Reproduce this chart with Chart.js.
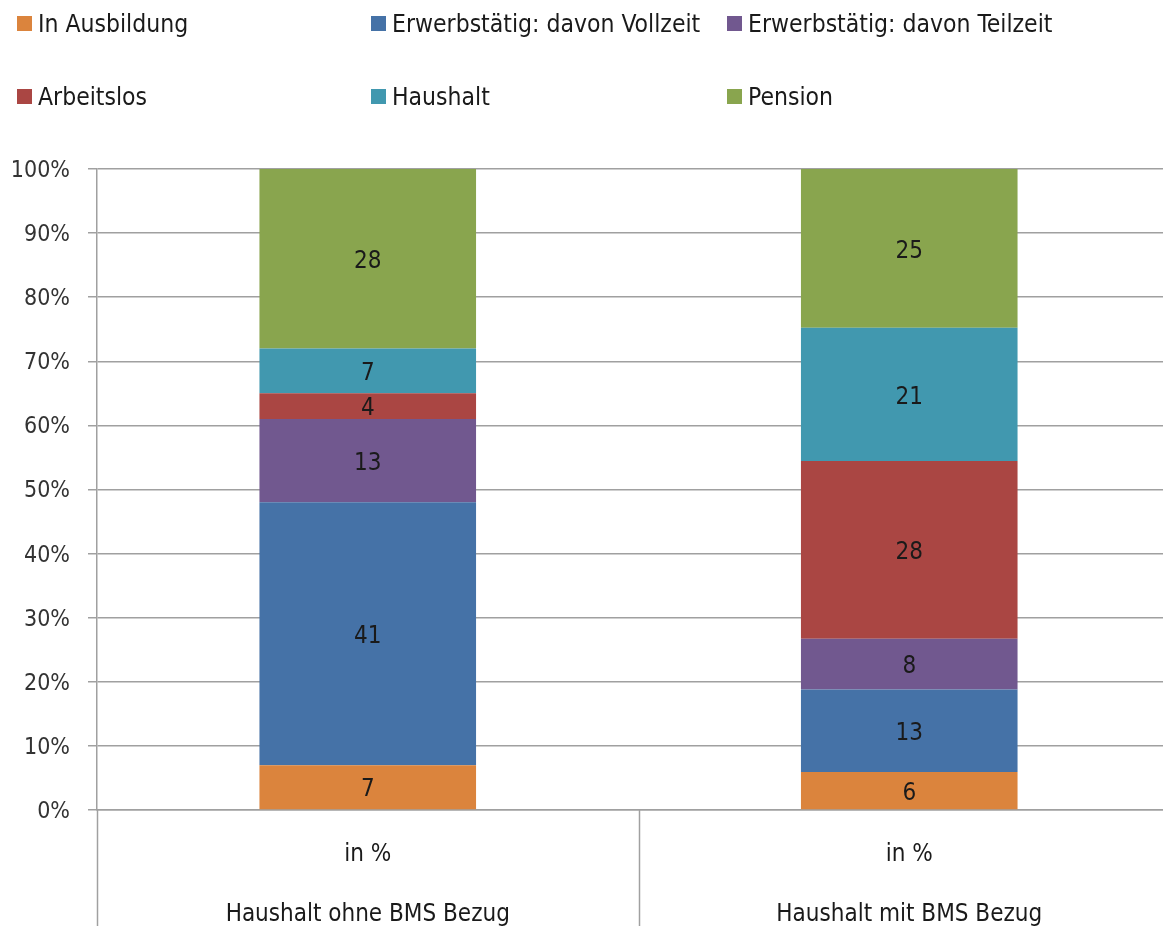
<!DOCTYPE html>
<html>
<head>
<meta charset="utf-8">
<script src="https://cdn.jsdelivr.net/npm/chart.js@4"></script>
<style>
  html, body { margin: 0; padding: 0; background: #fff; overflow: hidden; }
  canvas { display: block; }
</style>
</head>
<body>
<canvas id="grafica" width="1180" height="926" style="width:1180px;height:926px"></canvas>
<script>
// Kategorien (zweizeilige Achsenbeschriftung)
const kategorien = [
    ['in %', '', 'Haushalt ohne BMS Bezug'],
    ['in %', '', 'Haushalt mit BMS Bezug']
];
const serien = ['In Ausbildung', 'Erwerbstätig: davon Vollzeit', 'Erwerbstätig: davon Teilzeit', 'Arbeitslos', 'Haushalt', 'Pension'];
// Werte je Kategorie, in Reihenfolge der Serien
const ohneBMS = [7, 41, 13, 4, 7, 28];
const mitBMS = [6, 13, 8, 28, 21, 25];
const yTicks = [0, 10, 20, 30, 40, 50, 60, 70, 80, 90, 100];

const farben = ['#DB843D', '#4572A7', '#71588F', '#AA4643', '#4198AF', '#89A54E'];
const schrift = "'Liberation Sans Narrow', 'DejaVu Sans Condensed', Lato, sans-serif";
const grau = '#a0a0a0';

// 100%-gestapelt: jeder Balken wird auf seine Summe normiert
const summe = arr => arr.reduce((a, b) => a + b, 0);
const sOhne = summe(ohneBMS);
const sMit = summe(mitBMS);

const datasets = serien.map((name, i) => ({
    label: name,
    data: [ohneBMS[i] / sOhne * 100, mitBMS[i] / sMit * 100],
    roh: [ohneBMS[i], mitBMS[i]],
    backgroundColor: farben[i],
    borderWidth: 0,
    barPercentage: 0.4,
    categoryPercentage: 1
}));

// Legende oben, drei Spalten, zwei Zeilen
const legendePlugin = {
    id: 'legende',
    afterDraw(chart) {
        const ctx = chart.ctx;
        const spalten = [17, 371, 727];
        const zeilen = [24, 97];
        ctx.save();
        ctx.font = '24.5px ' + schrift;
        ctx.textBaseline = 'middle';
        ctx.textAlign = 'left';
        chart.data.datasets.forEach((ds, i) => {
            const x = spalten[i % 3];
            const y = zeilen[Math.floor(i / 3)];
            ctx.fillStyle = ds.backgroundColor;
            ctx.fillRect(x, y - 8, 15, 15);
            ctx.fillStyle = '#1a1a1a';
            ctx.fillText(ds.label, x + 21, y + 2);
        });
        ctx.restore();
    }
};

// Werte in die Segmente schreiben
const wertePlugin = {
    id: 'werte',
    afterDatasetsDraw(chart) {
        const ctx = chart.ctx;
        ctx.save();
        ctx.font = '24px ' + schrift;
        ctx.fillStyle = '#1a1a1a';
        ctx.textAlign = 'center';
        ctx.textBaseline = 'middle';
        chart.data.datasets.forEach((ds, i) => {
            chart.getDatasetMeta(i).data.forEach((bar, j) => {
                ctx.fillText(ds.roh[j], bar.x, (bar.y + bar.base) / 2 + 3);
            });
        });
        ctx.restore();
    }
};

// senkrechte Trennlinien unter der Achse
const trennPlugin = {
    id: 'trenn',
    afterDraw(chart) {
        const ctx = chart.ctx;
        const xs = chart.scales.x;
        const area = chart.chartArea;
        const halb = (xs.getPixelForValue(1) - xs.getPixelForValue(0)) / 2;
        ctx.save();
        ctx.strokeStyle = grau;
        ctx.lineWidth = 1.5;
        for (let i = 0; i <= kategorien.length; i++) {
            const x = Math.round(xs.getPixelForValue(0) - halb + i * 2 * halb) + 0.5;
            ctx.beginPath();
            ctx.moveTo(x, area.bottom);
            ctx.lineTo(x, chart.height);
            ctx.stroke();
        }
        ctx.restore();
    }
};

new Chart(document.getElementById('grafica'), {
    type: 'bar',
    data: { labels: kategorien, datasets: datasets },
    plugins: [legendePlugin, wertePlugin, trennPlugin],
    options: {
        responsive: false,
        animation: false,
        layout: { padding: { top: 169, left: 0, right: 0, bottom: 0 } },
        plugins: { legend: { display: false }, tooltip: { enabled: false } },
        scales: {
            x: {
                stacked: true,
                grid: { display: false, drawOnChartArea: false, drawTicks: false },
                border: { display: true, color: grau, width: 1.5 },
                ticks: {
                    padding: 30,
                    color: '#1a1a1a',
                    font: { family: schrift, size: 24, lineHeight: '30px' },
                    maxRotation: 0,
                    autoSkip: false
                },
                afterFit(scale) { scale.height = 116; }
            },
            y: {
                stacked: true,
                min: 0,
                max: 100,
                afterBuildTicks(scale) { scale.ticks = yTicks.map(v => ({ value: v })); },
                grid: { color: grau, lineWidth: 1.5, tickLength: 9 },
                border: { display: true, color: grau, width: 1.5 },
                ticks: {
                    padding: 18,
                    labelOffset: 2,
                    color: '#333333',
                    font: { family: schrift, size: 23 },
                    callback: v => v + '%'
                },
                afterFit(scale) { scale.width = 97; }
            }
        }
    }
});
</script>
</body>
</html>
